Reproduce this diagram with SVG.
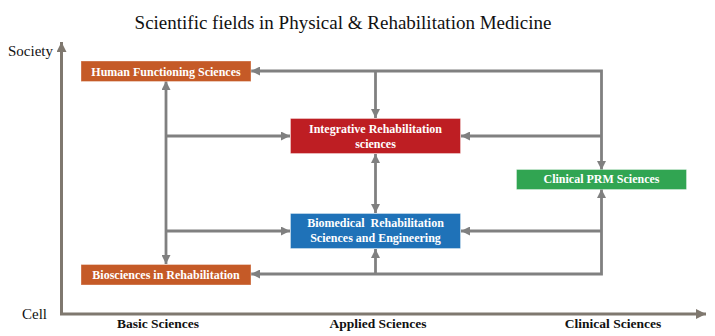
<svg xmlns="http://www.w3.org/2000/svg" width="715" height="336" viewBox="0 0 715 336">
<defs>
<style>
.title{font-family:"Liberation Serif","Times New Roman",serif;font-size:19px;fill:#111}
.axlab{font-family:"Liberation Serif","Times New Roman",serif;font-size:15px;fill:#111}
.cat{font-family:"Liberation Serif","Times New Roman",serif;font-size:13.5px;font-weight:bold;fill:#111;text-anchor:middle}
.nt{font-family:"Liberation Serif","Times New Roman",serif;font-size:12px;font-weight:bold;fill:#fff;text-anchor:middle;white-space:pre}
.box{stroke:#fff;stroke-opacity:0.35;stroke-width:1}
.conn{fill:none;stroke:#808080;stroke-width:2.8}
.axis{fill:none;stroke:#7f786f;stroke-width:3}
</style>
<marker id="ah" viewBox="0 0 10 10" refX="10" refY="5" markerWidth="9" markerHeight="9" markerUnits="userSpaceOnUse" orient="auto-start-reverse">
<path d="M0,0 L10,5 L0,10 z" fill="#808080"/>
</marker>
<marker id="axh" viewBox="0 0 10 10" refX="10" refY="5" markerWidth="10" markerHeight="10" markerUnits="userSpaceOnUse" orient="auto-start-reverse">
<path d="M0,0 L10,5 L0,10 z" fill="#7f786f"/>
</marker>
</defs>
<rect width="715" height="336" fill="#fff"/>
<text class="title" x="343" y="29" text-anchor="middle">Scientific fields in Physical &amp; Rehabilitation Medicine</text>
<g id="axes">
<path class="axis" d="M61.5,42 V314 H706" marker-start="url(#axh)" marker-end="url(#axh)"/>
<text class="axlab" x="8" y="56">Society</text>
<text class="axlab" x="22" y="319">Cell</text>
<text class="cat" x="158" y="328">Basic Sciences</text>
<text class="cat" x="378" y="328">Applied Sciences</text>
<text class="cat" x="613" y="328">Clinical Sciences</text>
</g>
<g id="connectors">
<path class="conn" d="M601.5,170 V71 H251" marker-start="url(#ah)" marker-end="url(#ah)"/>
<path class="conn" d="M375.5,71 V118" marker-end="url(#ah)"/>
<path class="conn" d="M601.5,136 H461" marker-end="url(#ah)"/>
<path class="conn" d="M166,81 V264" marker-start="url(#ah)" marker-end="url(#ah)"/>
<path class="conn" d="M166,136 H290" marker-end="url(#ah)"/>
<path class="conn" d="M166,231 H290" marker-end="url(#ah)"/>
<path class="conn" d="M375.5,154 V213" marker-start="url(#ah)" marker-end="url(#ah)"/>
<path class="conn" d="M601.5,189 V274 H251" marker-start="url(#ah)" marker-end="url(#ah)"/>
<path class="conn" d="M601.5,231 H461" marker-end="url(#ah)"/>
<path class="conn" d="M375.5,274 V249" marker-end="url(#ah)"/>
</g>
<g id="human-functioning">
<rect class="box" x="81" y="61" width="170" height="20.5" fill="#c55a27"/>
<text class="nt" x="166" y="75.5">Human Functioning Sciences</text>
</g>
<g id="integrative">
<rect class="box" x="290.5" y="118.5" width="170" height="35" fill="#be1e23"/>
<text class="nt" x="375.5" y="132.5">Integrative Rehabilitation</text>
<text class="nt" x="375.5" y="147.5">sciences</text>
</g>
<g id="clinical-prm">
<rect class="box" x="516.5" y="169.5" width="170" height="20" fill="#31a552"/>
<text class="nt" x="601.5" y="183">Clinical PRM Sciences</text>
</g>
<g id="biomedical">
<rect class="box" x="290.5" y="213.5" width="170" height="35" fill="#1f72b8"/>
<text class="nt" x="375.5" y="227">Biomedical  Rehabilitation</text>
<text class="nt" x="375.5" y="242">Sciences and Engineering</text>
</g>
<g id="biosciences">
<rect class="box" x="81" y="264.5" width="170" height="20.5" fill="#c55a27"/>
<text class="nt" x="166" y="278.5">Biosciences in Rehabilitation</text>
</g>
</svg>
